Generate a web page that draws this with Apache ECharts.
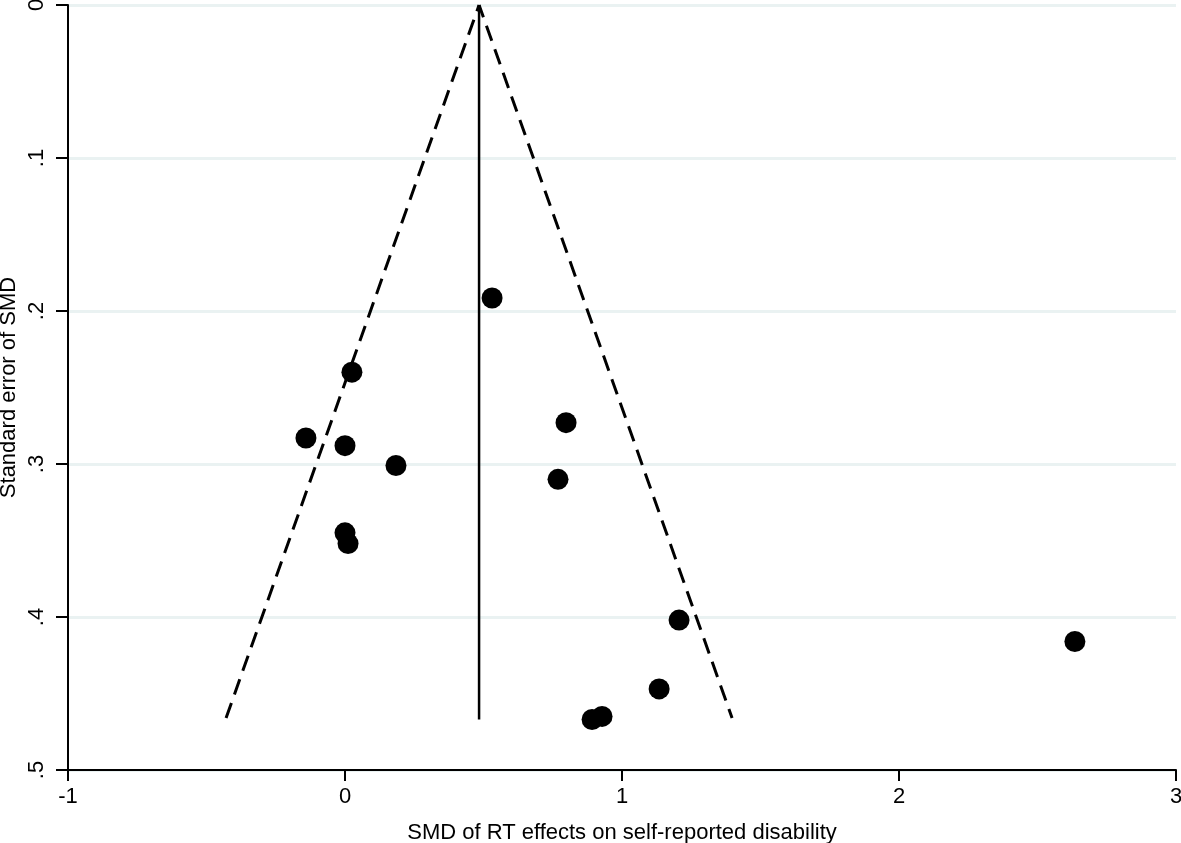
<!DOCTYPE html>
<html>
<head>
<meta charset="utf-8">
<script src="https://cdn.jsdelivr.net/npm/echarts@6/dist/echarts.min.js"></script>
<style>html,body{margin:0;padding:0;background:#fff}#c{width:1181px;height:843px}</style>
</head>
<body>
<div id="c"></div>
<script>
// Study effect sizes (SMD) and their standard errors
const smd = [0.531, 0.025, -0.141, 0.000, 0.184, 0.798, 0.769, 0.000, 0.011, 1.206, 2.635, 1.134, 0.928, 0.892];
const se  = [0.1915, 0.240, 0.283, 0.288, 0.301, 0.273, 0.310, 0.345, 0.352, 0.402, 0.416, 0.447, 0.465, 0.467];
// Pooled estimate and funnel extent
const pooledEffect = 0.484;
const funnelMaxSE = 0.466;
const zCrit = 1.96;
// Axis ticks
const xTicks = [-1, 0, 1, 2, 3];
const yTicks = [0, 0.1, 0.2, 0.3, 0.4, 0.5];
const yTickLabels = ['0', '.1', '.2', '.3', '.4', '.5'];

const points = smd.map((v, i) => [v, se[i]]);
const leftFunnel = [[pooledEffect - zCrit * funnelMaxSE, funnelMaxSE], [pooledEffect, 0]];
const rightFunnel = [[pooledEffect, 0], [pooledEffect + zCrit * funnelMaxSE, funnelMaxSE]];
const pooledLine = [[pooledEffect, 0], [pooledEffect, funnelMaxSE + 0.001]];

const font = 'Liberation Sans, Arial, Helvetica, sans-serif';
const chart = echarts.init(document.getElementById('c'), null, {renderer: 'canvas'});
chart.setOption({
  animation: false,
  backgroundColor: '#ffffff',
  grid: {left: 68, right: 5, top: 5, bottom: 73, containLabel: false, outerBoundsMode: 'none'},
  xAxis: {
    type: 'value', min: xTicks[0], max: xTicks[xTicks.length - 1], interval: 1,
    name: 'SMD of RT effects on self-reported disability',
    nameLocation: 'middle', nameGap: 52, nameMoveOverlap: false,
    nameTextStyle: {fontFamily: font, fontSize: 22, color: '#000'},
    axisLine: {show: true, onZero: false, lineStyle: {color: '#000', width: 2}},
    axisTick: {show: true, inside: false, length: 11, lineStyle: {color: '#000', width: 2}},
    axisLabel: {fontFamily: font, fontSize: 22, color: '#000', margin: 16},
    splitLine: {show: false}
  },
  yAxis: {
    type: 'value', inverse: true, min: yTicks[0], max: yTicks[yTicks.length - 1], interval: 0.1,
    name: 'Standard error of SMD',
    nameLocation: 'middle', nameGap: 48, nameMoveOverlap: false,
    nameTextStyle: {fontFamily: font, fontSize: 22, color: '#000'},
    axisLine: {show: true, onZero: false, lineStyle: {color: '#000', width: 2}},
    axisTick: {show: true, inside: false, length: 12, lineStyle: {color: '#000', width: 2}},
    axisLabel: {
      fontFamily: font, fontSize: 22, color: '#000', rotate: 90, margin: 20,
      formatter: function (v) {
        const i = yTicks.findIndex(t => Math.abs(t - v) < 1e-9);
        return i >= 0 ? yTickLabels[i] : '';
      }
    },
    splitLine: {show: true, lineStyle: {color: '#eaf2f2', width: 3}}
  },
  series: [
    {type: 'line', data: leftFunnel, symbol: 'none', lineStyle: {color: '#000', width: 3, type: [16, 9]}, z: 3},
    {type: 'line', data: rightFunnel, symbol: 'none', lineStyle: {color: '#000', width: 3, type: [16, 9], dashOffset: 3}, z: 3},
    {type: 'line', data: pooledLine, symbol: 'none', lineStyle: {color: '#000', width: 2.5}, z: 3},
    {type: 'scatter', data: points, symbol: 'circle', symbolSize: 21, itemStyle: {color: '#000', opacity: 1}, z: 4}
  ]
});
</script>
</body>
</html>
